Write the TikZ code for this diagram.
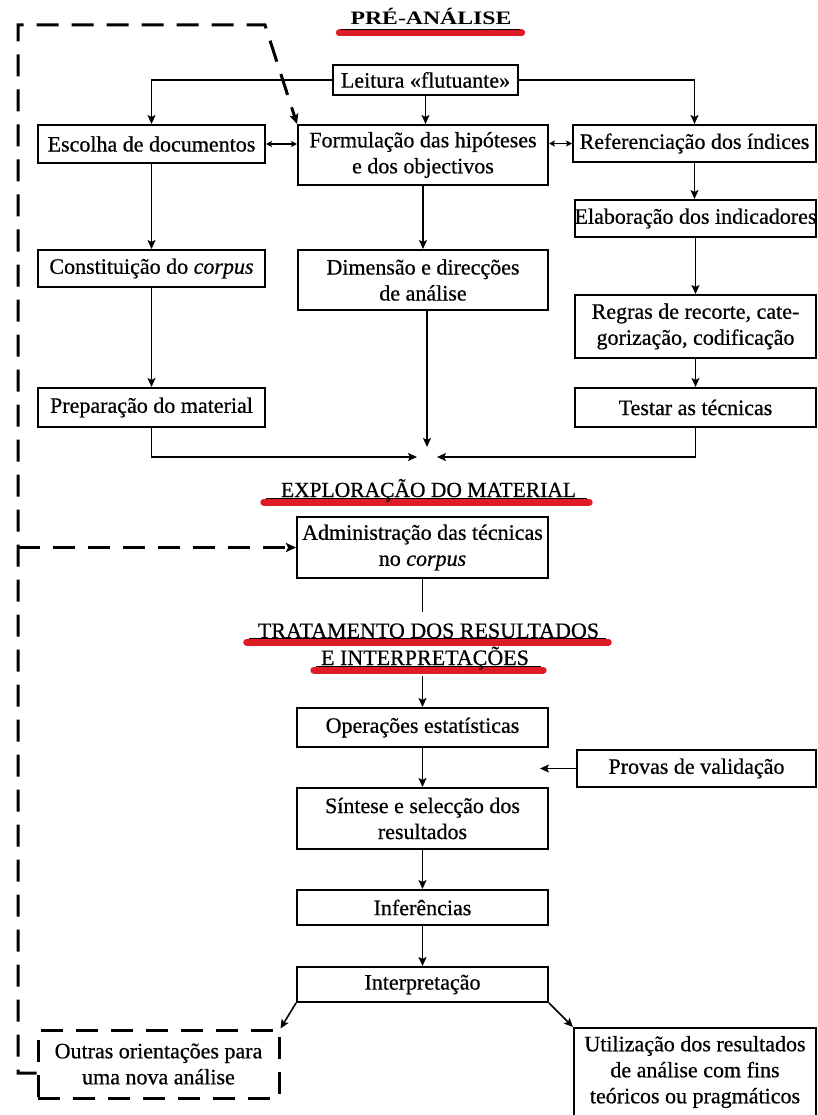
\documentclass[tikz,border=0pt]{standalone}
\usepackage{fontspec}
\setmainfont{Liberation Serif}[FakeBold=0.6]
\newfontfamily\widefont[FakeStretch=1.25]{Liberation Serif Bold}
\usetikzlibrary{arrows.meta,backgrounds}
\definecolor{mred}{RGB}{222,28,38}
\begin{document}
\begin{tikzpicture}[x=1pt,y=-1pt,
  bx/.style={draw, line width=2pt, align=center, inner sep=0pt, font=\fontsize{22}{26}\selectfont},
  arr/.style={line width=1.6pt, -{Stealth[length=9pt,width=8pt,inset=2pt]}},
  darr/.style={line width=1.6pt, {Stealth[length=6pt,width=6pt,inset=1.5pt]}-{Stealth[length=6pt,width=6pt,inset=1.5pt]}},
  ln/.style={line width=1.6pt},
  dsh/.style={line width=3pt, dash pattern=on 22pt off 13pt},
  dline/.style={dsh, -{Stealth[length=10pt,width=9pt,inset=2pt]}},
  hd/.style={inner sep=0pt, font=\fontsize{22}{26}\selectfont},
  mk/.style={mred, line width=7pt, line cap=round},
  ul/.style={black, line width=1.2pt}
]
\useasboundingbox (0,0) rectangle (818,1115);

% headings
\node[hd, font=\widefont\fontsize{19}{22}\selectfont, anchor=base] (pre) at (431,25) {PRÉ-ANÁLISE};
\node[hd, font=\fontsize{21.5}{24}\selectfont, anchor=base] (expl) at (428.5,497) {EXPLORAÇÃO DO MATERIAL};
\node[hd, anchor=base] (trat1) at (428.5,638) {TRATAMENTO DOS RESULTADOS};
\node[hd, anchor=base] (trat2) at (425,665) {E INTERPRETAÇÕES};

% boxes
\node[bx, minimum width=185pt, minimum height=30pt] (leitura) at (425.5,80) {Leitura «flutuante»};
\node[bx, minimum width=227pt, minimum height=38pt] (escolha) at (151.5,144) {Escolha de documentos};
\node[bx, minimum width=250pt, minimum height=60pt] (formul) at (423,155) {Formulação das hipóteses\\e dos objectivos};
\node[bx, minimum width=243pt, minimum height=37pt] (refer) at (694.5,143.5) {Referenciação dos índices};
\node[bx, minimum width=227pt, minimum height=37pt] (constit) at (151.5,268.5) {Constituição do \textit{corpus}};
\node[bx, minimum width=250pt, minimum height=60pt] (dimens) at (423,280) {Dimensão e direcções\\de análise};
\node[bx, minimum width=241pt, minimum height=37pt] (elabor) at (695.5,218.5) {Elaboração dos indicadores};
\node[bx, minimum width=241pt, minimum height=63pt] (regras) at (695.5,326.5) {Regras de recorte, cate-\\gorização, codificação};
\node[bx, minimum width=241pt, minimum height=39pt] (testar) at (695.5,407.5) {Testar as técnicas};
\node[bx, minimum width=227pt, minimum height=39pt] (prepar) at (151.5,407.5) {Preparação do material};
\node[bx, minimum width=251pt, minimum height=61pt] (admin) at (422.5,547.5) {Administração das técnicas\\no \textit{corpus}};
\node[bx, minimum width=251pt, minimum height=39pt] (operac) at (422.5,727.5) {Operações estatísticas};
\node[bx, minimum width=239pt, minimum height=37pt] (provas) at (696.5,768.5) {Provas de validação};
\node[bx, minimum width=251pt, minimum height=61pt] (sintese) at (422.5,818.5) {Síntese e selecção dos\\resultados};
\node[bx, minimum width=251pt, minimum height=35pt] (infer) at (422.5,907.5) {Inferências};
\node[bx, minimum width=251pt, minimum height=35pt] (interp) at (422.5,984.5) {Interpretação};
\node[bx, dsh, minimum width=241pt, minimum height=68pt] (outras) at (158.5,1064) {Outras orientações para\\uma nova análise};
\node[bx, minimum width=242pt, minimum height=88pt] (utiliz) at (695,1072) {Utilização dos resultados\\de análise com fins\\teóricos ou pragmáticos};

% coordinates
\coordinate (conv) at (427,457);
\coordinate (aend) at (422.5,612);
\coordinate (tstart) at (422.5,676);
\coordinate (pend) at (540,768.5);
\coordinate (lb) at (18,1073);
\coordinate (lm) at (18,547.5);
\coordinate (lt) at (18,25);
\coordinate (lk) at (265,25);

% connectors
\draw[arr] (leitura.west) -| (escolha.north);
\draw[arr] (leitura.south) -- (leitura.south |- formul.north);
\draw[arr] (leitura.east) -| (refer.north);
\draw[darr] (escolha.east) -- (escolha.east -| formul.west);
\draw[darr] (formul.east |- refer.west) -- (refer.west);
\draw[arr] (escolha.south) -- (constit.north);
\draw[arr] (constit.south) -- (prepar.north);
\draw[arr] (formul.south) -- (dimens.north);
\draw[arr] (refer.south) -- (refer.south |- elabor.north);
\draw[arr] (elabor.south) -- (regras.north);
\draw[arr] (regras.south) -- (testar.north);
\draw[arr] (prepar.south) |- ([xshift=-10pt]conv);
\draw[arr] (testar.south) |- ([xshift=10pt]conv);
\draw[arr] (dimens.south -| conv) -- ([yshift=10pt]conv);
\draw[ln] (admin.south) -- (aend);
\draw[arr] (tstart) -- (operac.north);
\draw[arr] (operac.south) -- (sintese.north);
\draw[arr] (provas.west) -- (pend);
\draw[arr] (sintese.south) -- (infer.north);
\draw[arr] (infer.south) -- (interp.north);
\draw[arr] (interp.south west) -- (outras.north east);
\draw[arr] (interp.south east) -- (utiliz.north west);

% dashed feedback loop
\draw[dline] ([yshift=-9pt]outras.west) -- (lb) -- (lt) -- (lk) -- (formul.north west);
\draw[dline] (lm) -- (admin.west);

% background: white page and red underlines
\begin{scope}[on background layer]
\fill[white] (0,0) rectangle (818,1115);
\draw[mk] ([xshift=-11pt,yshift=-8pt]pre.base west) -- ([xshift=10pt,yshift=-8pt]pre.base east);
\draw[ul] ([xshift=-9pt,yshift=-4.5pt]pre.base west) -- ([xshift=8pt,yshift=-4.5pt]pre.base east);
\draw[mk] ([xshift=-17pt,yshift=-5pt]expl.base west) -- ([xshift=13pt,yshift=-5pt]expl.base east);
\draw[ul] ([xshift=-15pt,yshift=-1.5pt]expl.base west) -- ([xshift=11pt,yshift=-1.5pt]expl.base east);
\draw[mk] ([xshift=-11pt,yshift=-4pt]trat1.base west) -- ([xshift=9pt,yshift=-4pt]trat1.base east);
\draw[ul] ([xshift=-9pt,yshift=-0.5pt]trat1.base west) -- ([xshift=7pt,yshift=-0.5pt]trat1.base east);
\draw[mk] ([xshift=-7pt,yshift=-5pt]trat2.base west) -- ([xshift=14pt,yshift=-5pt]trat2.base east);
\draw[ul] ([xshift=-5pt,yshift=-1.5pt]trat2.base west) -- ([xshift=12pt,yshift=-1.5pt]trat2.base east);
\end{scope}
\end{tikzpicture}
\end{document}
